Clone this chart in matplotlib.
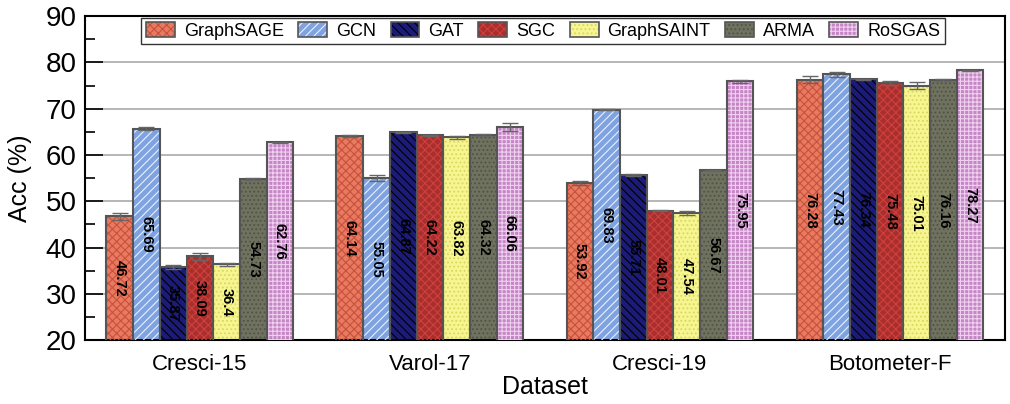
import matplotlib.pyplot as plt
import numpy as np
from matplotlib.patches import Patch

plt.rcParams['font.family'] = ['Liberation Sans', 'DejaVu Sans']
plt.rcParams['hatch.linewidth'] = 0.8

datasets = ['Cresci-15', 'Varol-17', 'Cresci-19', 'Botometer-F']
models = ['GraphSAGE', 'GCN', 'GAT', 'SGC', 'GraphSAINT', 'ARMA', 'RoSGAS']

# acc per model, one value per dataset
GraphSAGE = [46.72, 64.14, 53.92, 76.28]
GCN = [65.69, 55.05, 69.83, 77.43]
GAT = [35.87, 64.87, 55.71, 76.34]
SGC = [38.09, 64.22, 48.01, 75.48]
GraphSAINT = [36.4, 63.82, 47.54, 75.01]
ARMA = [54.73, 64.32, 56.67, 76.16]
RoSGAS = [62.76, 66.06, 75.95, 78.27]

# std (error bars)
GraphSAGE_err = [0.7, 0.15, 0.4, 0.7]
GCN_err = [0.35, 0.6, 0.15, 0.6]
GAT_err = [0.4, 0.2, 0.15, 0.15]
SGC_err = [0.7, 0.15, 0.1, 0.45]
GraphSAINT_err = [0.3, 0.35, 0.4, 0.7]
ARMA_err = [0.2, 0.2, 0.1, 0.2]
RoSGAS_err = [0.1, 0.9, 0.3, 0.1]

values = [GraphSAGE, GCN, GAT, SGC, GraphSAINT, ARMA, RoSGAS]
errors = [GraphSAGE_err, GCN_err, GAT_err, SGC_err, GraphSAINT_err, ARMA_err, RoSGAS_err]

face = ['#E87A62', '#7FA3E0', '#1C1C78', '#A8302C', '#F6F590', '#707260', '#C586C6']
hatch_col = ['#C9503A', '#E8F0FF', '#000000', '#D04040', '#D8D860', '#505244', '#F0D0F0']
hatches = ['xxxx', '////', '\\\\\\\\', 'xxxx', '....', '....', '++++']

fig = plt.figure(figsize=(10.1, 4.04), dpi=100)
ax = fig.add_axes([0.084, 0.158, 0.911, 0.802])

x = np.arange(len(datasets))
w = 0.116
for i in range(len(models)):
    pos = x + (i - 3) * w
    ax.bar(pos, values[i], w, bottom=0, color=face[i], edgecolor='none', zorder=2)
    ax.bar(pos, values[i], w, color='none', edgecolor=hatch_col[i], hatch=hatches[i], linewidth=0, zorder=3)
    ax.bar(pos, values[i], w, color='none', edgecolor='#555555', linewidth=1.5, zorder=4)
    ax.errorbar(pos, values[i], yerr=errors[i], fmt='none', ecolor='#666666', elinewidth=1, capsize=6, zorder=5)
    for j in range(len(datasets)):
        ax.text(pos[j], (20 + values[i][j]) / 2, str(values[i][j]), rotation=270,
                ha='center', va='center', fontsize=10.5, fontweight='bold', zorder=6)

ax.set_ylim(20, 90)
ax.set_xlim(-0.5, 3.5)
ax.set_yticks(np.arange(20, 91, 10))
ax.set_yticks(np.arange(25, 90, 10), minor=True)
ax.set_xticks(x)
ax.set_xticklabels(datasets, fontsize=16)
ax.tick_params(axis='y', which='major', direction='in', length=13, width=1.2, labelsize=20, pad=6)
ax.tick_params(axis='y', which='minor', direction='in', length=7, width=1.2)
ax.tick_params(axis='x', direction='in', length=13, width=1.2, pad=10)
for s in ax.spines.values():
    s.set_linewidth(1.5)
ax.grid(axis='y', which='major', color='#AAAAAA', linewidth=1.2, zorder=0)
ax.set_axisbelow(True)
ax.set_ylabel('Acc (%)', fontsize=18, labelpad=10)
ax.set_xlabel('Dataset', fontsize=18, labelpad=0)

handles = []
for i in range(len(models)):
    handles.append((Patch(facecolor=face[i], edgecolor='none'),
                    Patch(facecolor='none', edgecolor=hatch_col[i], hatch=hatches[i], linewidth=0),
                    Patch(facecolor='none', edgecolor='#555555', linewidth=1.2)))
leg = ax.legend(handles, models, loc='upper center', bbox_to_anchor=(0.498, 1.0), ncol=7,
                fontsize=13, frameon=True, fancybox=False, edgecolor='black',
                handlelength=1.6, handleheight=0.85, columnspacing=0.8, handletextpad=0.5,
                borderpad=0.25, borderaxespad=0.1)
leg.get_frame().set_linewidth(1.0)

fig.savefig('out.png', dpi=100)
